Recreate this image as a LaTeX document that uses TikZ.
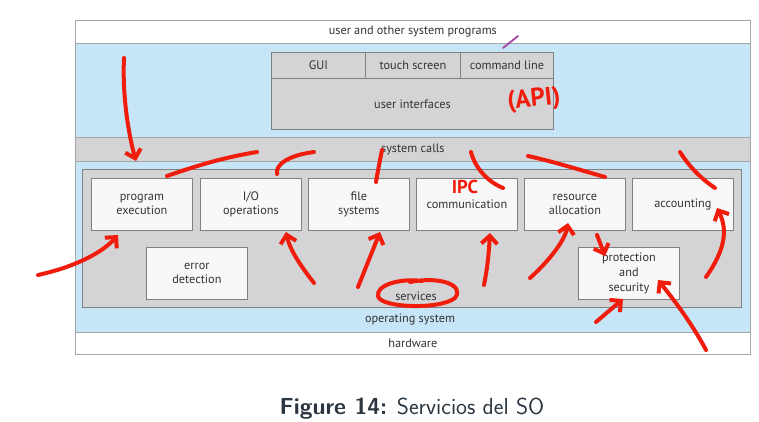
\documentclass[tikz,border=0pt]{standalone}
\usepackage{fontspec}
\setmainfont{PT Sans}
\usetikzlibrary{arrows.meta,positioning}
\definecolor{LayerBlue}{HTML}{C6E5F7}
\definecolor{LayerGray}{HTML}{D4D4D6}
\definecolor{BoxWhite}{HTML}{F8F8F8}
\definecolor{EdgeGray}{HTML}{808080}
\definecolor{InkRed}{HTML}{F01C0C}
\definecolor{CapText}{HTML}{2B3640}
\tikzset{
  layer/.style={draw=EdgeGray!70,line width=0.5pt,inner sep=0pt,anchor=north west,text=black!80},
  svc/.style={draw=EdgeGray,fill=BoxWhite,line width=0.6pt,minimum width=75.75pt,
    minimum height=39pt,align=center,inner sep=1pt,anchor=north west,text=black!80},
  uibox/.style={draw=EdgeGray,fill=LayerGray,line width=0.6pt,minimum height=19.5pt,
    inner sep=0pt,anchor=north west,text=black!80},
  ink/.style={InkRed,line width=3pt,line cap=round,line join=round},
  inkarrow/.style={ink,-{Straight Barb[length=6pt,width=12pt]}},
}
\begin{document}
\begin{tikzpicture}[x=0.75pt,y=-0.75pt,font=\fontsize{9.2}{11}\selectfont]
  \useasboundingbox[fill=white] (0,0) rectangle (759,421);
  % layers, top to bottom
  \node[layer,fill=white,minimum width=506.25pt,minimum height=17.25pt] (user) at (75,20) {user and other system programs};
  \node[layer,fill=LayerBlue,minimum width=506.25pt,minimum height=70.5pt] (apilayer) at (75,43) {};
  \node[uibox,minimum width=70.5pt] (gui) at (271,52) {GUI};
  \node[uibox,minimum width=71.25pt] (touch) at (365,52) {touch screen};
  \node[uibox,minimum width=69.75pt] (cmd) at (460,52) {command line};
  \node[uibox,minimum width=211.5pt,minimum height=38.25pt] (ui) at (271,78) {user interfaces};
  \node[layer,fill=LayerGray,minimum width=506.25pt,minimum height=18pt] (syscalls) at (75,137) {system calls};
  \node[layer,fill=LayerBlue,minimum width=506.25pt,minimum height=128.25pt] (os) at (75,161) {};
  \node[layer,draw=EdgeGray,fill=LayerGray,minimum width=494.25pt,minimum height=103.5pt] (svcarea) at (82,169) {};
  \node[text=black!80] (oslabel) at (410,319) {operating system};
  \node[text=black!80] (services) at (416,296) {services};
  \node[layer,fill=white,minimum width=506.25pt,minimum height=16.5pt] (hw) at (75,332) {hardware};
  % service boxes
  \node[svc] (prog) at (91,178) {program\\execution};
  \node[svc] (io) at (200,178) {I/O\\operations};
  \node[svc] (files) at (308,178) {file\\systems};
  \node[svc] (comm) at (416,178) {communication};
  \node[svc] (res) at (524,178) {resource\\allocation};
  \node[svc] (acct) at (632,178) {accounting};
  \node[svc] (err) at (146,247) {error\\detection};
  \node[svc] (prot) at (578,247) {protection\\and\\security};
  % caption
  \node[font=\sffamily\fontsize{17.4}{20}\selectfont,text=CapText] (cap) at (412,409) {\textbf{Figure 14:} Servicios del SO};
  % red pen marks
  \draw[violet!70,line width=1.4pt,line cap=round] (503,48) -- (518,36);
  \node[text=InkRed,font=\bfseries\fontsize{19}{19}\selectfont,rotate=6] (api) at (534,100) {(API)};
  \node[text=InkRed,font=\bfseries\fontsize{14}{14}\selectfont] (ipc) at (465,187) {IPC};
  \draw[inkarrow] (124,58) .. controls (122,100) and (130,140) .. (136,161);
  \draw[ink] (167,176) .. controls (190,168) and (220,158) .. (257,152);
  \draw[ink] (277,174) .. controls (275,164) and (290,155) .. (314,152);
  \draw[ink] (376,182) .. controls (378,170) and (380,160) .. (382,150);
  \draw[ink] (471,152) .. controls (475,168) and (488,182) .. (503,188);
  \draw[ink] (528,156) .. controls (555,162) and (580,170) .. (605,177);
  \draw[ink] (680,152) .. controls (690,168) and (703,180) .. (715,188);
  \draw[inkarrow] (38,275) .. controls (70,268) and (100,255) .. (118,235);
  \draw[inkarrow] (314,283) .. controls (300,265) and (290,250) .. (286,232);
  \draw[inkarrow] (358,287) -- (380,232);
  \draw[inkarrow] (484,285) .. controls (488,265) and (489,250) .. (490,233);
  \draw[inkarrow] (530,278) .. controls (550,260) and (565,240) .. (568,223);
  \draw[inkarrow] (597,235) -- (605,256);
  \draw[inkarrow] (596,322) -- (623,299);
  \draw[inkarrow] (706,350) .. controls (690,320) and (670,295) .. (658,280);
  \draw[inkarrow] (706,277) .. controls (725,250) and (728,230) .. (717,208);
  \draw[ink] (422,281) .. controls (400,278) and (376,285) .. (378,296)
    .. controls (380,308) and (440,310) .. (455,298)
    .. controls (465,285) and (440,276) .. (410,282);
\end{tikzpicture}
\end{document}
